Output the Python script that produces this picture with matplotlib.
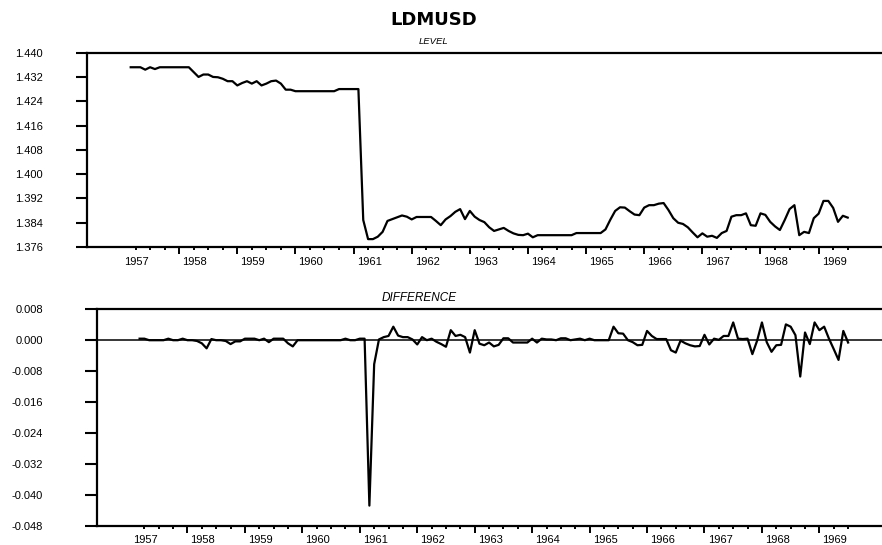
import numpy as np
import pandas as pd
import matplotlib
matplotlib.use("Agg")
import matplotlib.pyplot as plt
from matplotlib import transforms as mtransforms

plt.rcParams['font.family'] = ['Liberation Sans', 'DejaVu Sans']
plt.rcParams['axes.unicode_minus'] = False

# monthly data, 1957:03 - 1969:07
start = "1957-03-01"
years = list(range(1957, 1970))

level = [
    1.4353, 1.4353, 1.4353, 1.4345, 1.4353, 1.4347, 1.4353, 1.4353, 1.4353, 1.4353,
    1.4353, 1.4353, 1.4353, 1.4337, 1.4321, 1.4329, 1.4329, 1.4321, 1.4320, 1.4315, 1.4307, 1.4307,
    1.4293, 1.4301, 1.4307, 1.4299, 1.4307, 1.4293, 1.4299, 1.4307, 1.4309, 1.4299, 1.4279, 1.4279,
    1.4274, 1.4274, 1.4274, 1.4274, 1.4274, 1.4274, 1.4274, 1.4274, 1.4274, 1.4281, 1.4281, 1.4281,
    1.4281, 1.4281, 1.3849, 1.3786, 1.3786, 1.3794, 1.3810, 1.3846, 1.3852, 1.3858, 1.3864, 1.3860,
    1.3851, 1.3859, 1.3859, 1.3859, 1.3859, 1.3846, 1.3832, 1.3851, 1.3862, 1.3876, 1.3885, 1.3852,
    1.3879, 1.3860, 1.3849, 1.3842, 1.3825, 1.3813, 1.3818, 1.3823, 1.3813, 1.3805, 1.3800, 1.3799,
    1.3804, 1.3792, 1.3799, 1.3799, 1.3799, 1.3799, 1.3799, 1.3799, 1.3799, 1.3799, 1.3806, 1.3806,
    1.3806, 1.3806, 1.3806, 1.3806, 1.3818, 1.3850, 1.3879, 1.3891, 1.3890, 1.3878, 1.3867, 1.3865,
    1.3890, 1.3898, 1.3898, 1.3903, 1.3905, 1.3882, 1.3855, 1.3840, 1.3836, 1.3825, 1.3808, 1.3792,
    1.3805, 1.3794, 1.3797, 1.3790, 1.3806, 1.3813, 1.3860, 1.3865, 1.3865, 1.3871, 1.3832, 1.3830,
    1.3871, 1.3866, 1.3843, 1.3828, 1.3816, 1.3849, 1.3885, 1.3898, 1.3799, 1.3810, 1.3806, 1.3855,
    1.3870, 1.3912, 1.3912, 1.3889, 1.3843, 1.3863, 1.3857,
]

difference = [
    0.0004, 0.0004, 0.0, 0.0, 0.0, 0.0, 0.0004, 0.0, 0.0, 0.0004,
    0.0, 0.0, -0.0002, -0.0008, -0.0021, 0.0003, 0.0, 0.0, -0.0002, -0.0010, -0.0003, -0.0003,
    0.0004, 0.0004, 0.0004, 0.0, 0.0004, -0.0005, 0.0004, 0.0004, 0.0004, -0.0008, -0.0016, 0.0,
    0.0, 0.0, 0.0, 0.0, 0.0, 0.0, 0.0, 0.0, 0.0, 0.0004, 0.0, 0.0,
    0.0004, 0.0004, -0.0428, -0.0062, 0.0002, 0.0008, 0.0011, 0.0035, 0.0012, 0.0008, 0.0008, 0.0002,
    -0.0011, 0.0008, 0.0, 0.0004, -0.0004, -0.0010, -0.0017, 0.0026, 0.0011, 0.0014, 0.0008, -0.0032,
    0.0026, -0.0009, -0.0013, -0.0006, -0.0016, -0.0012, 0.0005, 0.0005, -0.0006, -0.0006, -0.0006, -0.0006,
    0.0004, -0.0006, 0.0004, 0.0002, 0.0002, 0.0, 0.0005, 0.0005, 0.0, 0.0002, 0.0004, 0.0,
    0.0004, 0.0, 0.0, 0.0, 0.0, 0.0035, 0.0018, 0.0017, 0.0, -0.0005, -0.0013, -0.0012,
    0.0024, 0.0011, 0.0003, 0.0003, 0.0003, -0.0026, -0.0032, -0.0001, -0.0008, -0.0013, -0.0016, -0.0015,
    0.0014, -0.0011, 0.0004, 0.0001, 0.0011, 0.0011, 0.0046, 0.0004, 0.0003, 0.0004, -0.0036, -0.0001,
    0.0046, -0.0005, -0.0030, -0.0013, -0.0012, 0.0041, 0.0035, 0.0013, -0.0094, 0.0020, -0.0010, 0.0046,
    0.0026, 0.0035, 0.0004, -0.0023, -0.0051, 0.0024, -0.0006,
]

level_ticks = [1.376, 1.384, 1.392, 1.400, 1.408, 1.416, 1.424, 1.432, 1.440]
diff_ticks = [-0.048, -0.040, -0.032, -0.024, -0.016, -0.008, 0.000, 0.008]

dates = pd.date_range(start, periods=len(level), freq="MS")
t = dates.year + (dates.month - 1) / 12.0

W, H = 882, 545
fig = plt.figure(figsize=(W / 100, H / 100), dpi=100)


def setup(ax, ticks, ylen, ypad):
    ax.set_xlim(1956.42, 1970.09)
    ax.set_ylim(ticks[0], ticks[-1])
    ax.spines['right'].set_visible(False)
    for s in ['left', 'bottom', 'top']:
        ax.spines[s].set_linewidth(1.6)
    ax.set_yticks(ticks)
    ax.set_yticklabels(["%.3f" % v for v in ticks])
    ax.tick_params(axis='y', direction='out', length=ylen, width=1.5,
                   pad=ypad, labelsize=8)
    # year ticks at January, quarter ticks in between (within data range)
    q = pd.date_range("1957-04-01", dates[-1], freq="QS-JAN")
    qx = q.year + (q.month - 1) / 12.0
    ax.set_xticks([y for y in years if y > 1957])
    ax.set_xticks([x for x in qx if x % 1 != 0], minor=True)
    ax.tick_params(axis='x', which='major', direction='out', length=5,
                   width=1.4, labelbottom=False)
    ax.tick_params(axis='x', which='minor', direction='out', length=2.5,
                   width=1.4)
    tr = mtransforms.blended_transform_factory(ax.transData, ax.transAxes) + \
        mtransforms.ScaledTranslation(0.155, -0.145, fig.dpi_scale_trans)
    for y in years:
        ax.text(y, 0, str(y), transform=tr, ha='center', va='center',
                fontsize=8, clip_on=False)


ax1 = fig.add_axes([87.3 / W, 1 - 247 / H, 1 - 87.3 / W, 194 / H])
setup(ax1, level_ticks, 7.6, 24.2)
ax1.plot(t, level, color='black', lw=1.6)

ax2 = fig.add_axes([96.7 / W, 1 - 525.7 / H, 1 - 96.7 / W, 216.4 / H])
setup(ax2, diff_ticks, 8.4, 30.2)
ax2.axhline(0, color='black', lw=1.1)
ax2.plot(t, difference, color='black', lw=1.6)

fig.text(434 / W, 1 - 20 / H, "LDMUSD", ha='center', va='center',
         fontsize=13, fontweight='bold', family='DejaVu Sans')
fig.text(433.5 / W, 1 - 41.7 / H, "LEVEL", ha='center', va='center',
         fontsize=6.8, style='italic')
fig.text(419 / W, 1 - 298.3 / H, "DIFFERENCE", ha='center', va='center',
         fontsize=8.5, style='italic')

fig.savefig("out.png", dpi=100)
